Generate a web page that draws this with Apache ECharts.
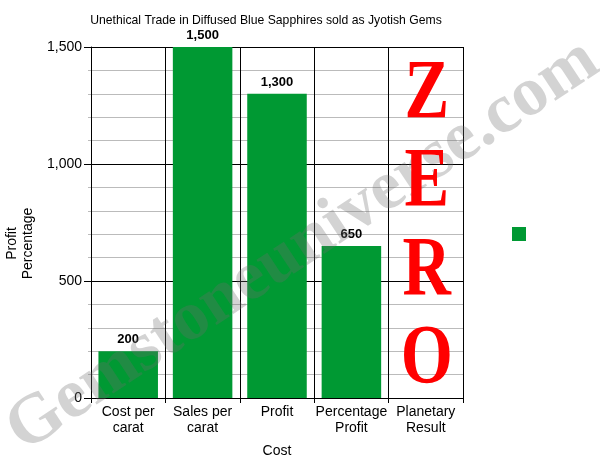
<!DOCTYPE html>
<html><head><meta charset="utf-8">
<script src="https://cdn.jsdelivr.net/npm/echarts@6/dist/echarts.min.js"></script>
<style>html,body{margin:0;padding:0;background:#fff}#c{width:600px;height:463px}</style>
</head><body><div id="c"></div>
<script>
var categories = ['Cost per\ncarat', 'Sales per\ncarat', 'Profit', 'Percentage\nProfit', 'Planetary\nResult'];
var values = [200, 1500, 1300, 650, null];
var yTicks = [0, 500, 1000, 1500];
var titleText = 'Unethical Trade in Diffused Blue Sapphires sold as Jyotish Gems';
var zeroLetters = ['Z', 'E', 'R', 'O'];
var watermark = 'Gemstoneuniverse.com';

var F = '"Liberation Sans", Arial, sans-serif';
var chart = echarts.init(document.getElementById('c'));
chart.setOption({
  backgroundColor: '#fff',
  animation: false,
  title: { text: titleText, left: 261, top: 10, textAlign: 'center',
    textStyle: { fontFamily: F, fontSize: 12.2, fontWeight: 'normal', color: '#000' } },
  legend: { left: 512, top: 227, padding: 0, itemWidth: 14, itemHeight: 14, icon: 'rect',
    data: ['Value'], formatter: function(){ return ''; }, textStyle: { fontSize: 1 }, itemGap: 0 },
  grid: { left: 91, right: 137, top: 47, bottom: 65, outerBoundsMode: 'none', containLabel: false },
  xAxis: {
    type: 'category', data: categories,
    name: 'Cost', nameLocation: 'middle', nameGap: 46,
    nameTextStyle: { fontFamily: F, fontSize: 14, color: '#000' },
    axisLine: { lineStyle: { color: '#000', width: 1 } },
    axisTick: { show: true, length: 5, lineStyle: { color: '#000' } },
    axisLabel: { fontFamily: F, fontSize: 14, color: '#000', lineHeight: 16, margin: 6, interval: 0 },
    splitLine: { show: true, lineStyle: { color: '#000', width: 1 } }
  },
  yAxis: {
    type: 'value', min: yTicks[0], max: yTicks[yTicks.length - 1], interval: 500,
    name: 'Profit\nPercentage', nameLocation: 'middle', nameGap: 47, nameRotate: 90,
    nameTextStyle: { fontFamily: F, fontSize: 14, color: '#000', lineHeight: 16, padding: [0, 42, 0, 0] },
    axisLine: { show: true, lineStyle: { color: '#000' } },
    axisTick: { show: true, length: 7, lineStyle: { color: '#000' } },
    minorTick: { show: true, splitNumber: 5, length: 3, lineStyle: { color: '#bbb' } },
    minorSplitLine: { show: true, lineStyle: { color: '#bbb', width: 1 } },
    splitLine: { show: true, lineStyle: { color: '#000', width: 1 } },
    axisLabel: { fontFamily: F, fontSize: 14, color: '#000', margin: 9,
      formatter: function(v){ return v.toLocaleString('en-US'); } }
  },
  series: [{
    name: 'Value', type: 'bar', data: values, barWidth: '80%', z: 2,
    itemStyle: { color: '#009933' },
    label: { show: true, position: 'top', distance: 5, fontFamily: F, fontSize: 13, fontWeight: 'bold', color: '#000',
      formatter: function(p){ return p.value == null ? '' : p.value.toLocaleString('en-US'); } }
  }]
});

var cx = chart.convertToPixel({ xAxisIndex: 0 }, categories[4]);
var mid = chart.convertToPixel({ yAxisIndex: 0 }, 750);
var zeroEls = zeroLetters.map(function(ch, i){
  return { type: 'text', x: cx + 1, y: mid + 6 + (i - 1.5) * 88.3, scaleY: 1.27, z: 30,
    style: { text: ch, x: 0, y: 0, align: 'center', verticalAlign: 'middle',
      font: 'bold 67px "Liberation Serif", "Times New Roman", serif', fill: '#ff0000' } };
});
chart.setOption({
  graphic: [{
    type: 'text', x: 303, y: 246, rotation: 0.585, z: 20,
    style: { text: watermark, x: 0, y: 0, align: 'center', verticalAlign: 'middle',
      font: 'bold 70px "Liberation Serif", "Times New Roman", serif',
      fill: 'rgba(110,110,110,0.3)', shadowColor: 'rgba(0,0,0,0.4)', shadowBlur: 7, shadowOffsetX: 6, shadowOffsetY: 6 }
  }].concat(zeroEls)
});
</script></body></html>
